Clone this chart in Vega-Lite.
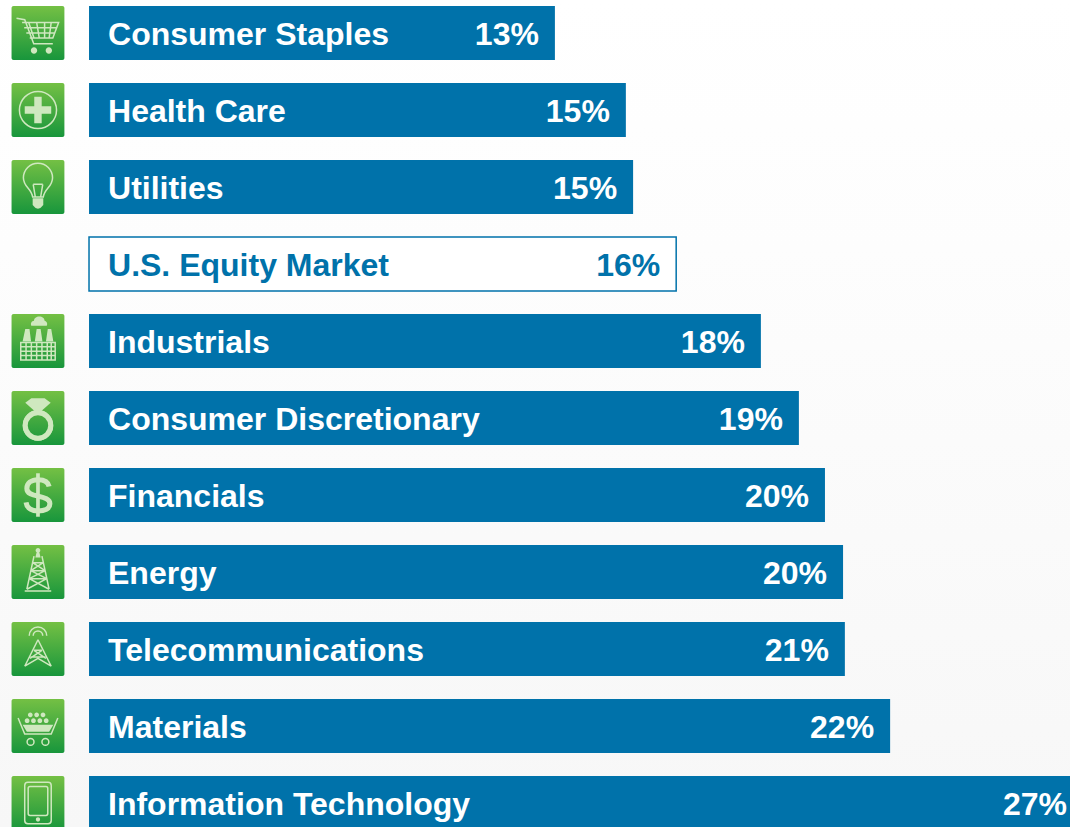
{
"$schema":"https://vega.github.io/schema/vega-lite/v6.json",
"width":1070,"height":827,"padding":0,"autosize":{"type":"none"},
"background":"#fbfbfb",
"view":{"stroke":null,"fill":{"gradient":"linear","x1":0,"y1":0,"x2":0,"y2":1,"stops":[{"offset":0,"color":"#ffffff"},{"offset":0.3,"color":"#fdfdfd"},{"offset":1,"color":"#f7f7f7"}]}},
"config":{"text":{"font":"Liberation Sans","fontWeight":"bold","fontSize":32}},
"data":{"values":[
{"sector":"Consumer Staples","group":"Sector","length":12.87,"label":"13%"},
{"sector":"Health Care","group":"Sector","length":14.83,"label":"15%"},
{"sector":"Utilities","group":"Sector","length":15.03,"label":"15%"},
{"sector":"U.S. Equity Market","group":"Market","length":16.22,"label":"16%"},
{"sector":"Industrials","group":"Sector","length":18.56,"label":"18%"},
{"sector":"Consumer Discretionary","group":"Sector","length":19.61,"label":"19%"},
{"sector":"Financials","group":"Sector","length":20.33,"label":"20%"},
{"sector":"Energy","group":"Sector","length":20.83,"label":"20%"},
{"sector":"Telecommunications","group":"Sector","length":20.88,"label":"21%"},
{"sector":"Materials","group":"Sector","length":22.13,"label":"22%"},
{"sector":"Information Technology","group":"Sector","length":27.46,"label":"27%"}
]},
"encoding":{
"y":{"field":"sector","type":"nominal","sort":null,"axis":null,"scale":{"range":[-5.5,841.5],"paddingInner":0.3,"paddingOuter":0.15}}
},
"resolve":{"scale":{"shape":"independent"}},
"layer":[
{"mark":{"type":"bar","strokeWidth":1.5},
 "encoding":{
  "x":{"field":"length","type":"quantitative","axis":null,"scale":{"domain":[-2.459,27.099],"zero":false,"nice":false}},
  "x2":{"datum":0},
  "fill":{"field":"group","type":"nominal","legend":null,"scale":{"domain":["Sector","Market"],"range":["#0072aa","#ffffff"]}},
  "stroke":{"field":"group","type":"nominal","legend":null,"scale":{"domain":["Sector","Market"],"range":["transparent","#0072aa"]}}
 }},
{"transform":[{"filter":"datum.group==='Sector'"}],
 "mark":{"type":"rect","cornerRadius":2,"fill":{"gradient":"linear","x1":0,"y1":0,"x2":0,"y2":1,"stops":[{"offset":0,"color":"#74c044"},{"offset":1,"color":"#18963c"}]}},
 "encoding":{"x":{"datum":-2.14},"x2":{"datum":-0.68}}},
{"transform":[{"filter":"datum.group==='Sector' && datum.sector!=='Financials'"}],
 "mark":{"type":"point","filled":false,"stroke":"#cfe8bf","strokeWidth":1.5,"size":2809,"opacity":1},
 "encoding":{"x":{"datum":-1.41},
  "shape":{"field":"sector","type":"nominal","legend":null,"scale":{
   "domain":["Consumer Staples","Health Care","Utilities","Industrials","Consumer Discretionary","Energy","Telecommunications","Materials","Information Technology"],
   "range":[
    "M-.81 -.56L-.5 -.5L-.16 .41L.56 .41M-.6 -.4L.78 -.4L.56 .19L-.31 .19M-.35 -.4L-.15 .19M-.05 -.4L.05 .19M.25 -.4L.25 .19M.5 -.4L.42 .19M-.52 -.2L.7 -.2M-.44 0L.63 0",
    "M-.7 0A.7 .7 0 1 1 .7 0A.7 .7 0 1 1 -.7 0Z",
    "M-.2 .38C-.25 .05 -.55 0 -.55 -.35A.55 .55 0 1 1 .55 -.35C.55 0 .25 .05 .2 .38ZM-.18 -.1L-.1 .38M.18 -.1L.1 .38M-.18 -.1L.18 -.1",
    "M-.65 .06L.65 .06L.65 .72L-.65 .72ZM-.65 .22L.65 .22M-.65 .39L.65 .39M-.65 .55L.65 .55M-.45 .06L-.45 .72M-.25 .06L-.25 .72M-.05 .06L-.05 .72M.15 .06L.15 .72M.35 .06L.35 .72M.5 .06L.5 .72",
    "M-.55 .28A.55 .55 0 1 1 .55 .28A.55 .55 0 1 1 -.55 .28Z",
    "M-.15 -.6L-.42 .65M.15 -.6L.42 .65M-.5 .72L.5 .72M-.2 -.35L.2 -.35M-.27 -.05L.27 -.05M-.33 .25L.33 .25M-.2 -.35L.27 -.05M.2 -.35L-.27 -.05M-.27 -.05L.33 .25M.27 -.05L-.33 .25M-.33 .25L.42 .65M.33 .25L-.42 .65",
    "M0 -.35L-.5 .65M0 -.35L.5 .65M-.5 .65L0 .35L.5 .65M-.15 .05L.3 .35M.15 .05L-.3 .35M-.15 .05L.15 .05M-.28 .3L.28 .3M-.18 -.5A.18 .18 0 0 1 .18 -.5M-.33 -.5A.33 .33 0 0 1 .33 -.5",
    "M-.75 -.3L-.5 .3L.5 .3L.75 -.3M-.28 .47A.13 .13 0 1 1 -.28 .73A.13 .13 0 1 1 -.28 .47ZM.28 .47A.13 .13 0 1 1 .28 .73A.13 .13 0 1 1 .28 .47Z",
    "M-.38 -.78L.38 -.78Q.5 -.78 .5 -.66L.5 .66Q.5 .78 .38 .78L-.38 .78Q-.5 .78 -.5 .66L-.5 -.66Q-.5 -.78 -.38 -.78ZM-.3 -.62L.3 -.62Q.37 -.62 .37 -.55L.37 .4Q.37 .47 .3 .47L-.3 .47Q-.37 .47 -.37 .4L-.37 -.55Q-.37 -.62 -.3 -.62Z"
   ]}}
 }},
{"transform":[{"filter":"datum.group==='Sector' && datum.sector!=='Utilities' && datum.sector!=='Information Technology' && datum.sector!=='Energy' && datum.sector!=='Telecommunications'"}],
 "mark":{"type":"point","filled":true,"fill":"#cfe8bf","stroke":null,"size":2809,"opacity":1},
 "encoding":{"x":{"datum":-1.41},
  "shape":{"field":"sector","type":"nominal","legend":null,"scale":{
   "domain":["Consumer Staples","Health Care","Industrials","Consumer Discretionary","Materials","Financials"],
   "range":[
    "M-.27 .66A.12 .12 0 1 1 -.03 .66A.12 .12 0 1 1 -.27 .66ZM.29 .66A.12 .12 0 1 1 .53 .66A.12 .12 0 1 1 .29 .66Z",
    "M-.14 -.5L.14 -.5L.14 -.14L.5 -.14L.5 .14L.14 .14L.14 .5L-.14 .5L-.14 .14L-.5 .14L-.5 -.14L-.14 -.14Z",
    "M-.58 .02L-.48 -.45L-.32 -.45L-.26 .02ZM-.12 .02L-.05 -.45L.1 -.45L.17 .02ZM.3 .02L.37 -.45L.5 -.45L.58 .02ZM-.25 -.58A.12 .12 0 0 1 -.15 -.76A.2 .16 0 0 1 .25 -.76A.12 .12 0 0 1 .33 -.58Z",
    "M-.48 -.58L-.25 -.75L.25 -.75L.48 -.58L0 -.15Z",
    "M-.58 -.05L.58 -.05L.42 .22L-.42 .22ZM-.5 -.2A.09 .09 0 1 1 -.32 -.2A.09 .09 0 1 1 -.5 -.2ZM-.26 -.2A.09 .09 0 1 1 -.08 -.2A.09 .09 0 1 1 -.26 -.2ZM-.02 -.2A.09 .09 0 1 1 .16 -.2A.09 .09 0 1 1 -.02 -.2ZM.22 -.2A.09 .09 0 1 1 .4 -.2A.09 .09 0 1 1 .22 -.2ZM-.38 -.42A.09 .09 0 1 1 -.2 -.42A.09 .09 0 1 1 -.38 -.42ZM-.14 -.42A.09 .09 0 1 1 .04 -.42A.09 .09 0 1 1 -.14 -.42ZM.1 -.42A.09 .09 0 1 1 .28 -.42A.09 .09 0 1 1 .1 -.42Z",
    "M-.07 -.82L.07 -.82L.07 .82L-.07 .82Z"
   ]}}
 }},
{"transform":[{"filter":"datum.sector==='Utilities' || datum.sector==='Information Technology' || datum.sector==='Energy'"}],
 "mark":{"type":"point","filled":true,"fill":"#cfe8bf","stroke":null,"size":2809,"opacity":1},
 "encoding":{"x":{"datum":-1.41},
  "shape":{"field":"sector","type":"nominal","legend":null,"scale":{
   "domain":["Utilities","Information Technology","Energy"],
   "range":[
    "M-.2 .42L.2 .42L.2 .68Q.1 .82 0 .82Q-.1 .82 -.2 .68Z",
    "M-.08 .62A.08 .08 0 1 1 .08 .62A.08 .08 0 1 1 -.08 .62Z",
    "M-.09 -.82A.09 .09 0 1 1 .09 -.82A.09 .09 0 1 1 -.09 -.82ZM-.05 -.75L.05 -.75L.1 -.55L-.1 -.55Z"
   ]}}
 }},
{"transform":[{"filter":"datum.sector==='Financials' || datum.sector==='Consumer Discretionary'"}],
 "mark":{"type":"point","filled":false,"stroke":"#cfe8bf","strokeWidth":5,"size":2809,"opacity":1},
 "encoding":{"x":{"datum":-1.41},
  "shape":{"field":"sector","type":"nominal","legend":null,"scale":{
   "domain":["Financials","Consumer Discretionary"],
   "range":[
    "M.42 -.32C.38 -.55 .15 -.58 0 -.58C-.25 -.58 -.42 -.45 -.42 -.25C-.42 -.05 -.2 0 0 .04C.25 .1 .45 .15 .45 .33C.45 .52 .25 .6 0 .6C-.2 .6 -.42 .52 -.45 .28",
    "M-.48 .28A.48 .48 0 1 1 .48 .28A.48 .48 0 1 1 -.48 .28Z"
   ]}}
 }},
{"mark":{"type":"text","align":"left","baseline":"middle","dx":19,"dy":2},
 "encoding":{"x":{"datum":0},"text":{"field":"sector","type":"nominal"},
  "color":{"field":"group","type":"nominal","legend":null,"scale":{"domain":["Sector","Market"],"range":["#ffffff","#0072aa"]}}}},
{"mark":{"type":"text","align":"right","baseline":"middle","dx":-16,"dy":1.5},
 "encoding":{"x":{"field":"length","type":"quantitative"},"text":{"field":"label","type":"nominal"},
  "color":{"field":"group","type":"nominal","legend":null,"scale":{"domain":["Sector","Market"],"range":["#ffffff","#0072aa"]}}}}
]
}
